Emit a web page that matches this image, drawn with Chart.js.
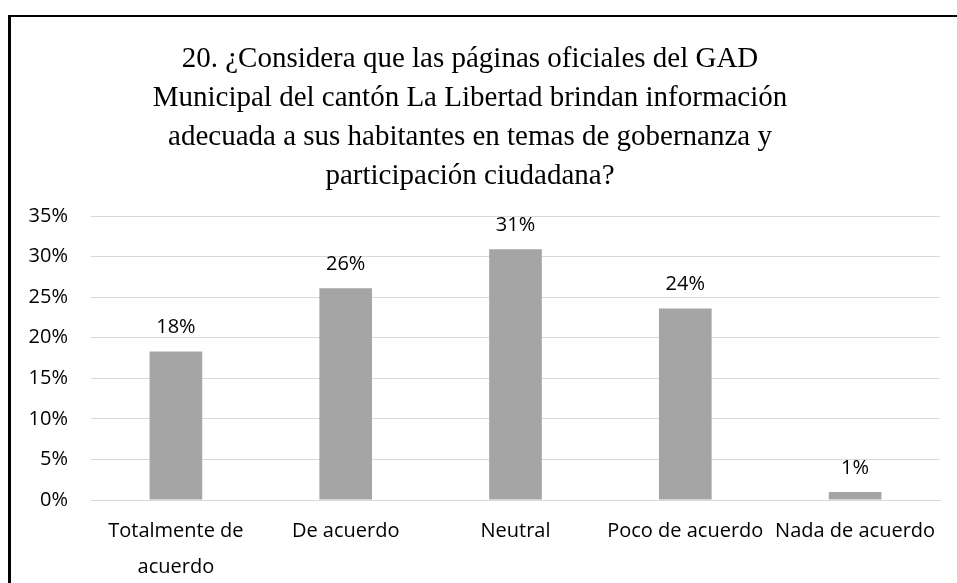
<!DOCTYPE html>
<html>
<head>
<meta charset="utf-8">
<script src="https://cdn.jsdelivr.net/npm/chart.js@4"></script>
<style>
  html, body { margin: 0; padding: 0; background: #fff; }
  #wrap { width: 957px; height: 583px; position: relative; }
</style>
</head>
<body>
<div id="wrap"><canvas id="chart"></canvas></div>
<script>
// data
const categories = [['Totalmente de', 'acuerdo'], 'De acuerdo', 'Neutral', 'Poco de acuerdo', 'Nada de acuerdo'];
const percentages = [18.3, 26.1, 30.9, 23.6, 1.0];
const titleLines = [
    '20. ¿Considera que las páginas oficiales del GAD',
    'Municipal del cantón La Libertad brindan información',
    'adecuada a sus habitantes en temas de gobernanza y',
    'participación ciudadana?'
];
const yTickMax = 35;
const yTickStep = 5;

const labelFont = "'Open Sans', sans-serif";

// frame lines on top and left, like the cropped picture
const framePlugin = {
    id: 'frame',
    beforeDraw(chart) {
        const ctx = chart.ctx;
        ctx.save();
        ctx.fillStyle = '#fff';
        ctx.fillRect(0, 0, chart.width, chart.height);
        ctx.fillStyle = '#000';
        ctx.fillRect(8, 15, chart.width - 8, 2);
        ctx.fillRect(8, 15, 3, chart.height - 15);
        ctx.restore();
    }
};

// value labels above each bar
const valueLabels = {
    id: 'valueLabels',
    afterDatasetsDraw(chart) {
        const ctx = chart.ctx;
        const meta = chart.getDatasetMeta(0);
        ctx.save();
        ctx.font = '20px ' + labelFont;
        ctx.fillStyle = '#000';
        ctx.textAlign = 'center';
        ctx.textBaseline = 'middle';
        meta.data.forEach((bar, i) => {
            ctx.fillText(Math.round(percentages[i]) + '%', bar.x, bar.y - 24);
        });
        ctx.restore();
    }
};

const ctx = document.getElementById('chart').getContext('2d');

new Chart(ctx, {
    type: 'bar',
    data: {
        labels: categories,
        datasets: [{
            data: percentages,
            backgroundColor: '#A5A5A5',
            borderWidth: 0,
            categoryPercentage: 1,
            barPercentage: 0.31
        }]
    },
    options: {
        responsive: true,
        maintainAspectRatio: false,
        animation: false,
        layout: { padding: { left: 0, right: 17, top: 0, bottom: 0 } },
        scales: {
            x: {
                afterFit: (scale) => { scale.height = 83; },
                grid: { display: false },
                border: { display: true, color: '#D9D9D9', width: 1 },
                ticks: {
                    color: '#000',
                    font: { family: labelFont, size: 20, lineHeight: 1.8 },
                    padding: 5,
                    maxRotation: 0,
                    autoSkip: false
                }
            },
            y: {
                min: 0,
                max: yTickMax,
                afterFit: (scale) => { scale.width = 91; },
                grid: { color: '#D9D9D9', lineWidth: 1, drawTicks: false },
                border: { display: false },
                ticks: {
                    stepSize: yTickStep,
                    color: '#000',
                    padding: 23,
                    font: { family: labelFont, size: 20 },
                    callback: (v) => v + '%'
                }
            }
        },
        plugins: {
            legend: { display: false },
            tooltip: { enabled: false },
            title: {
                display: true,
                text: titleLines,
                color: '#000',
                font: { family: "'Liberation Serif', serif", size: 29, weight: 'normal', lineHeight: 1.345 },
                padding: { top: 40, bottom: 20 }
            }
        }
    },
    plugins: [framePlugin, valueLabels]
});
</script>
</body>
</html>
